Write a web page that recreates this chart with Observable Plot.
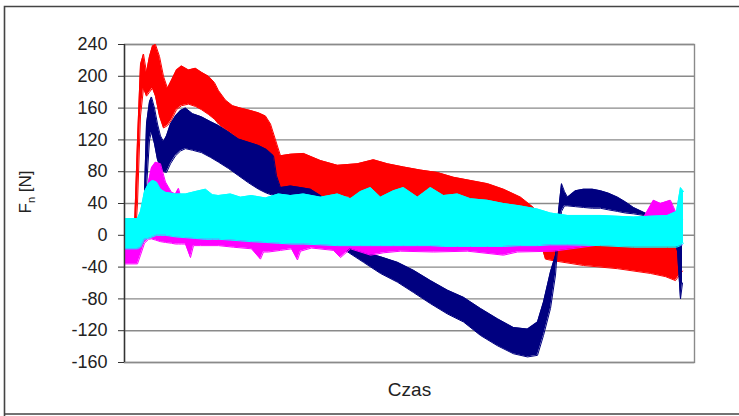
<!DOCTYPE html>
<html>
<head>
<meta charset="utf-8">
<script src="https://cdn.jsdelivr.net/npm/d3@7"></script>
<script src="https://cdn.jsdelivr.net/npm/@observablehq/plot@0.6"></script>
<style>
  html, body { margin: 0; padding: 0; background: #ffffff; }
  #chart { width: 739px; height: 416px; overflow: hidden; }
</style>
</head>
<body>
<div id="chart"></div>
<script>
// ---- Data (time in arbitrary units) ----
const yTicks = [-160, -120, -80, -40, 0, 40, 80, 120, 160, 200, 240];
const xLabel = "Czas";
const yLabelMain = "F";
const yLabelSub = "n";
const yLabelUnit = " [N]";

// Series 1 (red): lower / upper envelope of the noisy signal
const redTime = [0, 8, 10, 13, 16, 19, 22, 25, 28, 31, 35, 39, 43, 47, 52, 57, 64, 71, 77, 84, 90, 94, 101, 108, 116, 126, 134, 141, 146, 151, 156, 166, 179, 196, 213, 233, 249, 263, 279, 296, 313, 329, 346, 363, 379, 396, 409, 414, 421, 429, 459, 493, 526, 541, 551, 558];
const redLow  = [-25, -25, -20, 40, 150, 185, 175, 180, 185, 175, 150, 135, 138, 145, 158, 163, 165, 162, 158, 152, 146, 140, 133, 127, 118, 108, 100, 92, 78, 63, 55, 52, 50, 48, 50, 46, 44, 44, 44, 44, 44, 43, 42, 40, 36, 30, 20, 0, -30, -32, -38, -42, -48, -52, -57, -45];
const redHigh = [15, 15, 10, 120, 215, 228, 205, 225, 238, 240, 225, 200, 185, 195, 208, 213, 208, 210, 205, 200, 192, 182, 170, 163, 160, 157, 154, 150, 140, 120, 100, 102, 103, 94, 88, 90, 95, 90, 86, 82, 79, 73, 69, 65, 58, 48, 35, 25, -5, -8, -8, -10, -10, -8, -5, -5];

// Series 2 (navy)
const navyTime = [0, 19, 22, 25, 27, 30, 33, 36, 39, 42, 46, 51, 56, 61, 68, 77, 86, 94, 104, 114, 124, 134, 142, 149, 152, 156, 166, 176, 186, 196, 206, 216, 222, 239, 256, 273, 289, 306, 323, 339, 356, 373, 389, 403, 413, 419, 426, 431, 434, 437, 440, 443, 451, 459, 468, 476, 484, 493, 501, 509, 519, 526, 546, 553, 556, 558];
const navyLow  = [-10, -10, 60, 120, 130, 115, 95, 85, 80, 79, 90, 100, 106, 109, 107, 104, 98, 92, 84, 75, 66, 58, 53, 50, 45, 44, 44, 46, 45, 35, 10, -15, -20, -34, -48, -59, -72, -86, -99, -109, -126, -139, -149, -153, -151, -126, -92, -50, 0, 30, 37, 37, 36, 35, 34, 34, 32, 30, 28, 27, 25, 20, 10, -20, -80, -60];
const navyHigh = [10, 10, 140, 168, 174, 160, 140, 125, 118, 125, 140, 150, 157, 160, 153, 149, 143, 138, 130, 121, 117, 113, 108, 100, 75, 60, 62, 60, 58, 50, 40, 10, -10, -21, -27, -34, -44, -57, -69, -78, -92, -105, -116, -118, -109, -84, -46, -25, 30, 65, 55, 48, 56, 58, 58, 56, 53, 48, 42, 35, 29, 25, 20, 10, -5, 5];

// Series 3 (magenta)
const magentaTime = [0, 13, 16, 20, 24, 27, 31, 36, 41, 47, 51, 54, 57, 61, 66, 69, 76, 94, 109, 127, 136, 139, 144, 156, 167, 173, 176, 187, 209, 216, 226, 246, 259, 276, 309, 343, 379, 393, 429, 476, 509, 519, 529, 536, 546, 551, 558];
const magentaLow  = [-36, -36, -25, -10, -5, -4.5, -6, -8, -9, -10, -11, -11, -11, -11, -28, -13, -13, -13, -15, -17, -30, -21, -21, -19, -17, -31, -20, -16, -19, -28, -17, -25, -22, -20, -21, -20, -25, -21, -20, -12, -12, -12, -12, -12, -12, -12, -12];
const magentaHigh = [-15, -15, 10, 40, 67, 85, 92, 90, 67, 54, 52, 59, 45, 35, 33, 33, 33, 33, 33, 33, 33, 33, 33, 33, 33, 33, 33, 33, 33, 33, 33, 33, 33, 33, 33, 33, 20, 20, 20, 20, 20, 22, 44, 40, 44, 30, 20];

// Series 4 (cyan)
const cyanTime = [0, 13, 16, 20, 24, 28, 32, 36, 41, 51, 61, 71, 81, 88, 94, 106, 116, 127, 141, 154, 166, 179, 196, 213, 226, 236, 246, 256, 269, 279, 293, 306, 319, 333, 346, 363, 379, 396, 413, 426, 443, 476, 509, 543, 552, 556, 559];
const cyanLow  = [-17, -17, -15, -5, -4, -2, 0, 0, 0, -2, -3, -4, -5, -5, -5, -6, -7, -8, -9, -10, -11, -11, -12, -13, -13, -13, -13, -13, -13, -13, -13, -13, -14, -14, -14, -14, -14, -13, -13, -12, -12, -13, -15, -15, -15, -13, -10];
const cyanHigh = [21, 21, 30, 55, 65, 69, 67, 58, 54, 52, 52, 55, 58, 51, 50, 52, 48, 50, 47, 52, 50, 52, 48, 52, 46, 55, 60, 48, 56, 60, 48, 60, 50, 52, 46, 44, 40, 37, 33, 28, 25, 25, 23, 25, 30, 60, 55];

const seriesColors = ["#ff0000", "#000080", "#ff00ff", "#00ffff"];

// ---- Build tables ----
function table(time, low, high) {
  return time.map((t, i) => ({t, lo: low[i], hi: high[i]}));
}
const series = [
  table(redTime, redLow, redHigh),
  table(navyTime, navyLow, navyHigh),
  table(magentaTime, magentaLow, magentaHigh),
  table(cyanTime, cyanLow, cyanHigh)
];

const bandMarks = series.flatMap((data, i) => [
  Plot.areaY(data, {x: "t", y1: "lo", y2: "hi", fill: seriesColors[i], curve: "linear"}),
  Plot.line(data, {x: "t", y: "hi", stroke: seriesColors[i], strokeWidth: 1}),
  Plot.line(data, {x: "t", y: "lo", stroke: seriesColors[i], strokeWidth: 1})
]);

const chart = Plot.plot({
  width: 739,
  height: 416,
  marginLeft: 124,
  marginRight: 45,
  marginTop: 44,
  marginBottom: 54,
  style: {fontFamily: "'Liberation Sans', Arial, sans-serif", fontSize: "18px", color: "#222", background: "#ffffff"},
  x: {domain: [0, 570], axis: null},
  y: {domain: [-160, 240], ticks: yTicks, label: null},
  marks: [
    Plot.gridY(yTicks, {stroke: "#8a8a8a", strokeOpacity: 1, strokeWidth: 1.4}),
    Plot.frame({stroke: "#8a8a8a", strokeWidth: 1.4}),
    ...bandMarks,
    Plot.axisY(yTicks, {tickSize: 6, tickPadding: 11, tickFormat: d => String(d), fontSize: 18, stroke: "#333", label: null}),
    Plot.ruleX([0], {stroke: "#333", strokeWidth: 1.4}),
    Plot.text([xLabel], {frameAnchor: "bottom", dy: 33, fontSize: 19, fill: "#222", text: d => d})
  ]
});

// outer chart border and rotated y label with subscript
const svg = d3.select(chart);
svg.append("path")
  .attr("d", "M4.5,420 V6.5 H745 M4.5,414 H745")
  .attr("fill", "none")
  .attr("stroke", "#444")
  .attr("stroke-width", 1.6);
const yl = svg.append("text")
  .attr("transform", "translate(31,192) rotate(-90)")
  .attr("text-anchor", "middle")
  .attr("font-size", 17)
  .attr("fill", "#222");
yl.append("tspan").text(yLabelMain);
yl.append("tspan").attr("font-size", 11).attr("dy", 4).text(yLabelSub);
yl.append("tspan").attr("dy", -4).text(yLabelUnit);

document.getElementById("chart").appendChild(chart);
</script>
</body>
</html>
